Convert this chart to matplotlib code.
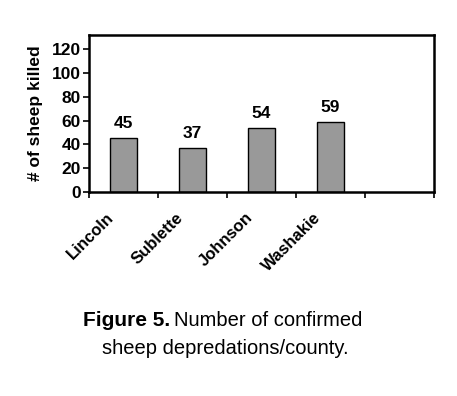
import matplotlib
matplotlib.use("Agg")
import matplotlib.pyplot as plt
import matplotlib.transforms as mtrans
import numpy as np

counties = ["Lincoln", "Sublette", "Johnson", "Washakie", ""]
killed = [45, 37, 54, 59, None]
yticks = [0, 20, 40, 60, 80, 100, 120]

plt.rcParams['font.family'] = ['Liberation Sans', 'DejaVu Sans']

fig = plt.figure(figsize=(4.57, 3.96), dpi=100)
ax = fig.add_axes([89/457, 1-192/396, (434-89)/457, (192-35)/396])

x = np.arange(len(counties))
vals = [v for v in killed if v is not None]
xs = x[:len(vals)]
ax.bar(xs, vals, width=0.4, color="#999999", edgecolor="black", linewidth=1.0)
for xi, v in zip(xs, vals):
    ax.text(xi, v + 6, str(v), ha="center", va="bottom", fontsize=12.5, fontweight="bold")

ax.set_xlim(-0.5, len(counties) - 0.5)
ax.set_ylim(0, 132)
ax.set_yticks(yticks)
ax.set_yticklabels([str(t) for t in yticks], fontsize=12.5, fontweight="bold")
ax.set_xticks(np.arange(len(counties) + 1) - 0.5)
ax.set_xticklabels([])
ax.set_xticks(xs, minor=True)
ax.set_xticklabels(counties[:len(vals)], minor=True, rotation=45, ha="right",
                   va="top", rotation_mode="anchor", fontsize=12, fontweight="bold")
ax.tick_params(axis="x", which="minor", length=0, pad=13)
offset = mtrans.ScaledTranslation(-17/100, 0, fig.dpi_scale_trans)
for lab in ax.get_xticklabels(minor=True):
    lab.set_transform(lab.get_transform() + offset)
ax.tick_params(axis="both", which="major", direction="out", length=4, width=1.2)
ax.tick_params(axis="y", pad=2)
for s in ax.spines.values():
    s.set_linewidth(1.8)
ax.set_ylabel("# of sheep killed", fontsize=12.5, fontweight="bold", labelpad=6)

t1 = fig.text(83/457, 1-321/396, "Figure 5.", fontsize=15, fontweight="bold", va="center", ha="left")
fig.canvas.draw()
r = fig.canvas.get_renderer()
bb = t1.get_window_extent(r)
fig.text((bb.x1 + 4)/457, 1-321/396, "Number of confirmed", fontsize=14.5, va="center", ha="left")
fig.text(225/457, 1-348/396, "sheep depredations/county.", fontsize=14.5, va="center", ha="center")

fig.savefig("out.png", dpi=100)
